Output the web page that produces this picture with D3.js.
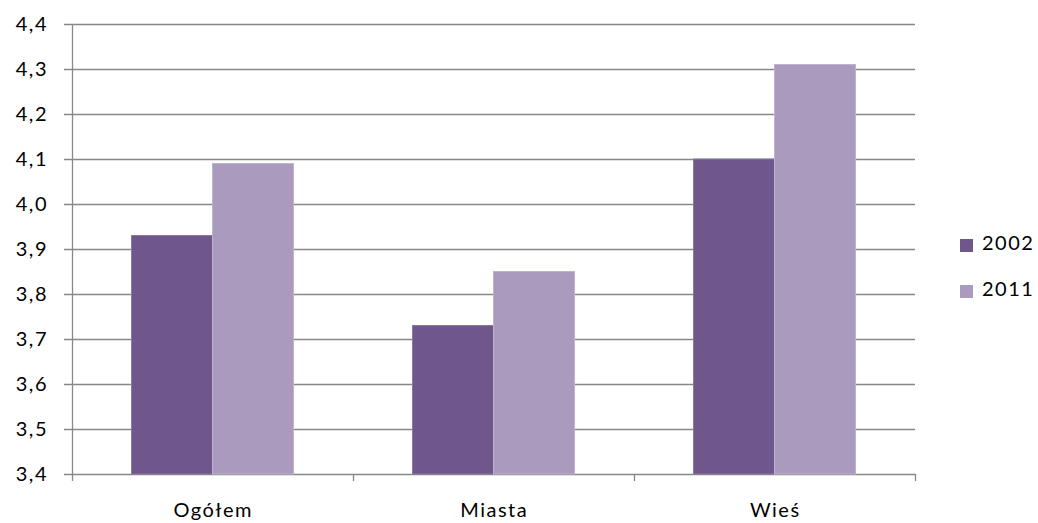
<!DOCTYPE html>
<html>
<head>
<meta charset="utf-8">
<script src="https://cdn.jsdelivr.net/npm/d3@7"></script>
<style>
  html, body { margin: 0; padding: 0; background: #fff; }
  svg text { font-family: Lato, "Open Sans", sans-serif; fill: #000; letter-spacing: 1.5px; }
</style>
</head>
<body>
<svg id="chart" width="1038" height="523"></svg>
<script>
// Average household size by area, two census years
const categories = ["Ogółem", "Miasta", "Wieś"];
const seriesNames = ["2002", "2011"];
const values2002 = [3.93, 3.73, 4.10];
const values2011 = [4.09, 3.85, 4.31];
const yTicks = [3.4, 3.5, 3.6, 3.7, 3.8, 3.9, 4.0, 4.1, 4.2, 4.3, 4.4];
const colors = ["#6f578c", "#a99abe"];

const series = [values2002, values2011];
const svg = d3.select("#chart");
const margin = { left: 72, right: 123, top: 24, bottom: 49 };
const W = 1038, H = 523;
const fontSize = 20;

const x = d3.scaleBand().domain(categories).range([margin.left, W - margin.right]);
const x1 = d3.scaleBand().domain(seriesNames).range([0, x.bandwidth()]).paddingOuter(0.735);
const y = d3.scaleLinear().domain([3.4, 4.4]).range([H - margin.bottom, margin.top]);

const fmt = d => d.toFixed(1).replace(".", ",");

// horizontal gridlines (extending left as tick marks)
svg.append("g")
  .selectAll("line")
  .data(yTicks)
  .join("line")
  .attr("x1", margin.left - 8)
  .attr("x2", W - margin.right)
  .attr("y1", d => Math.round(y(d)) + 0.5)
  .attr("y2", d => Math.round(y(d)) + 0.5)
  .attr("stroke", "#878787")
  .attr("stroke-width", 1.3);

// y labels
const yAxis = d3.axisLeft(y).tickValues(yTicks).tickFormat(fmt).tickSize(8).tickPadding(16);
const gy = svg.append("g").attr("transform", `translate(${margin.left},0)`).call(yAxis);
gy.select(".domain").remove();
gy.selectAll(".tick line").remove();
gy.selectAll("text").attr("font-size", fontSize).attr("font-family", null).attr("fill", "#000");

// bars
categories.forEach((c, i) => {
  series.forEach((vals, s) => {
    svg.append("rect")
      .attr("x", x(c) + x1(seriesNames[s]))
      .attr("y", y(vals[i]))
      .attr("width", x1.bandwidth())
      .attr("height", y(3.4) - y(vals[i]))
      .attr("fill", colors[s])
      .attr("stroke", s === 0 ? "#8b79a3" : "#bfb3cf")
      .attr("stroke-width", 1);
  });
});

// vertical axis line
svg.append("line")
  .attr("x1", margin.left + 0.5).attr("x2", margin.left + 0.5)
  .attr("y1", y(4.4)).attr("y2", y(3.4))
  .attr("stroke", "#878787").attr("stroke-width", 1.3);

// x axis
const xAxis = d3.axisBottom(x).tickSize(0).tickPadding(28);
const gx = svg.append("g").attr("transform", `translate(0,${Math.round(y(3.4)) + 0.5})`).call(xAxis);
gx.select(".domain").remove();
gx.selectAll("text").attr("font-size", fontSize).attr("font-family", null).attr("fill", "#000")
  .attr("dx", "0.75px");

// category boundary ticks
const bounds = categories.map(c => x(c)).concat([x.range()[1]]);
svg.append("g").selectAll("line")
  .data(bounds)
  .join("line")
  .attr("x1", d => Math.round(d) + 0.5).attr("x2", d => Math.round(d) + 0.5)
  .attr("y1", y(3.4)).attr("y2", y(3.4) + 7)
  .attr("stroke", "#878787").attr("stroke-width", 1.3);

// legend
const legend = svg.append("g").attr("transform", "translate(960,239)");
seriesNames.forEach((n, s) => {
  const g = legend.append("g").attr("transform", `translate(0,${s * 46})`);
  g.append("rect").attr("width", 13).attr("height", 13).attr("fill", colors[s]);
  g.append("text").attr("x", 22).attr("y", 11).attr("font-size", fontSize).text(n);
});
</script>
</body>
</html>
